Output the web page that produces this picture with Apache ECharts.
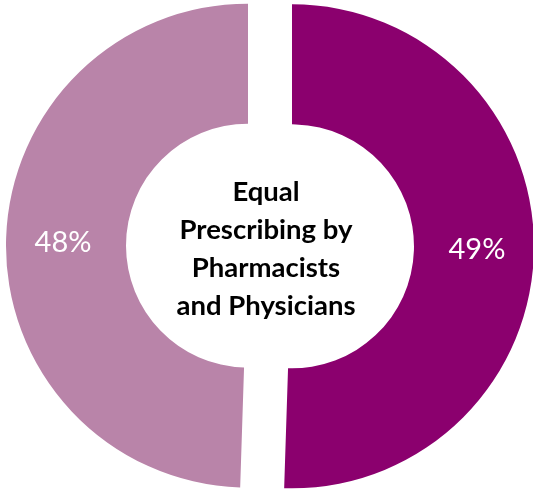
<!DOCTYPE html>
<html>
<head>
<meta charset="utf-8">
<script src="https://cdn.jsdelivr.net/npm/echarts@6/dist/echarts.min.js"></script>
<style>html,body{margin:0;padding:0;background:#fff}#c{width:533px;height:490px}</style>
</head>
<body>
<div id="c"></div>
<script>
const categories = ['Prescribing by Pharmacists', 'Prescribing by Physicians'];
const values = [49, 48];
const colors = ['#8B006E', '#B984A9'];
const centerLines = ['Equal', 'Prescribing by', 'Pharmacists', 'and Physicians'];

const chart = echarts.init(document.getElementById('c'));
chart.setOption({
  animation: false,
  backgroundColor: '#ffffff',
  series: [{
    type: 'pie',
    center: [270, 246],
    radius: [122, 242],
    startAngle: 90,
    clockwise: true,
    selectedMode: 'multiple',
    selectedOffset: 22,
    silent: true,
    label: {
      show: true,
      position: 'inside',
      formatter: '{c}%',
      color: '#ffffff',
      fontSize: 29,
      fontFamily: 'Lato'
    },
    labelLine: { show: false },
    data: categories.map((name, i) => ({
      name: name,
      value: values[i],
      selected: true,
      itemStyle: { color: colors[i] },
      select: { itemStyle: { color: colors[i] }, label: { color: '#ffffff' } }
    }))
  }],
  graphic: [{
    type: 'text',
    x: 266,
    y: 249,
    style: {
      text: centerLines.join('\n'),
      textAlign: 'center',
      textVerticalAlign: 'middle',
      fontFamily: 'Lato',
      fontWeight: 'bold',
      fontSize: 27.5,
      lineHeight: 38,
      fill: '#000000'
    }
  }]
});
</script>
</body>
</html>
